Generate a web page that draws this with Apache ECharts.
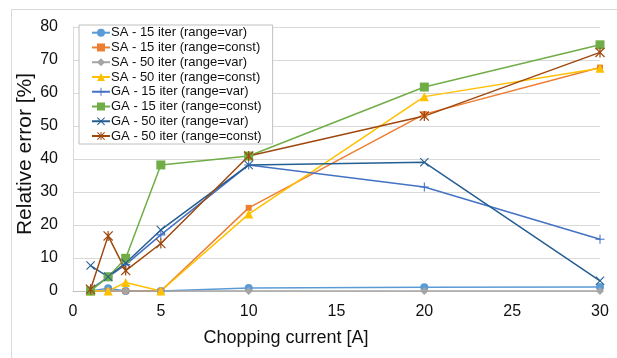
<!DOCTYPE html>
<html>
<head>
<meta charset="utf-8">
<script src="https://cdn.jsdelivr.net/npm/echarts@6/dist/echarts.min.js"></script>
<style>html,body{margin:0;padding:0;background:#fff}#c{width:617px;height:358px}</style>
</head>
<body>
<div id="c"></div>
<script>
var currents = [1, 2, 3, 5, 10, 20, 30];
var xTicks = [0, 5, 10, 15, 20, 25, 30];
var yTicks = [0, 10, 20, 30, 40, 50, 60, 70, 80];
var seriesNames = [
  'SA - 15 iter (range=var)', 'SA - 15 iter (range=const)',
  'SA - 50 iter (range=var)', 'SA - 50 iter (range=const)',
  'GA - 15 iter (range=var)', 'GA - 15 iter (range=const)',
  'GA - 50 iter (range=var)', 'GA - 50 iter (range=const)'
];
var sa15var   = [0, 0.8, 0, 0, 0.9, 1.1, 1.2];
var sa15const = [0, 0, 0, 0, 25.2, 53.6, 67.7];
var sa50var   = [0, 0, 0, 0, 0, 0, 0];
var sa50const = [0, 0, 2.6, 0, 23.3, 58.9, 67.5];
var ga15var   = [0.5, 4.3, 8, 17, 38.2, 31.5, 15.7];
var ga15const = [0, 4.3, 9.9, 38.2, 40.9, 61.8, 74.6];
var ga50var   = [7.7, 4.3, 8.5, 18.5, 38.2, 39, 3.1];
var ga50const = [0.5, 16.7, 6.2, 14.4, 40.9, 53, 72.3];

var values = [sa15var, sa15const, sa50var, sa50const, ga15var, ga15const, ga50var, ga50const];
var colors = ['#5B9BD5', '#ED7D31', '#A5A5A5', '#FFC000', '#4472C4', '#70AD47', '#255E91', '#9E480E'];
var PLUS = 'path://M4.4,0H5.6V4.4H10V5.6H5.6V10H4.4V5.6H0V4.4H4.4Z';
var CROSS = 'path://M0,0.85L0.85,0L5,4.15L9.15,0L10,0.85L5.85,5L10,9.15L9.15,10L5,5.85L0.85,10L0,9.15L4.15,5Z';
var STAR = CROSS + 'M4.4,0H5.6V10H4.4Z';
var symbols = ['circle', 'rect', 'diamond', 'triangle', PLUS, 'rect', CROSS, STAR];
var sizes = [8, 6, 8, 9, 9, 9, 9, 10];

function pairs(arr) { return currents.map(function (c, i) { return [c, arr[i]]; }); }

var FONT = '"Liberation Sans", Arial, sans-serif';
var series = values.map(function (v, i) {
  return {
    name: seriesNames[i], type: 'line', data: pairs(v),
    symbol: symbols[i], symbolSize: sizes[i], showSymbol: true,
    symbolKeepAspect: true,
    lineStyle: { color: colors[i], width: 1.5 },
    itemStyle: { color: colors[i] },
    emphasis: { disabled: true }, animation: false
  };
});

var chart = echarts.init(document.getElementById('c'), null, { renderer: 'canvas' });
chart.setOption({
  animation: false,
  backgroundColor: '#fff',
  color: colors,
  grid: { left: 73, right: 17, top: 27, bottom: 67, containLabel: false },
  xAxis: {
    type: 'value', min: xTicks[0], max: xTicks[xTicks.length - 1], interval: 5,
    axisLine: { show: true, lineStyle: { color: '#BFBFBF', width: 1 } },
    axisTick: { show: false },
    splitLine: { show: false },
    axisLabel: { color: '#111', fontSize: 16, fontFamily: FONT, margin: 13 }
  },
  yAxis: {
    type: 'value', min: yTicks[0], max: yTicks[yTicks.length - 1], interval: 10,
    axisLine: { show: true, lineStyle: { color: '#D9D9D9', width: 1 } },
    axisTick: { show: false },
    splitLine: { show: true, lineStyle: { color: '#D9D9D9', width: 1 } },
    axisLabel: { color: '#111', fontSize: 16, fontFamily: FONT, margin: 15 }
  },
  legend: {
    orient: 'vertical', left: 79, top: 25,
    data: seriesNames,
    itemWidth: 18, itemHeight: 10, itemGap: 1.76,
    padding: [1.2, 11, 1.5, 12],
    backgroundColor: '#fff', borderColor: '#BFBFBF', borderWidth: 1,
    textStyle: { color: '#111', fontSize: 13, fontFamily: FONT, padding: [0, 0, 0, -4] }
  },
  graphic: [
    { type: 'rect', z: -10, silent: true, shape: { x: 11.5, y: 9.5, width: 700, height: 400 }, style: { fill: 'none', stroke: '#D9D9D9', lineWidth: 1 } },
    { type: 'text', x: 25, y: 154, rotation: Math.PI / 2, silent: true,
      style: { text: 'Relative error [%]', fill: '#111', font: '21px ' + FONT, align: 'center', verticalAlign: 'middle' } },
    { type: 'text', x: 286, y: 338, silent: true,
      style: { text: 'Chopping current [A]', fill: '#111', font: '18px ' + FONT, align: 'center', verticalAlign: 'middle' } }
  ],
  series: series
});
</script>
</body>
</html>
